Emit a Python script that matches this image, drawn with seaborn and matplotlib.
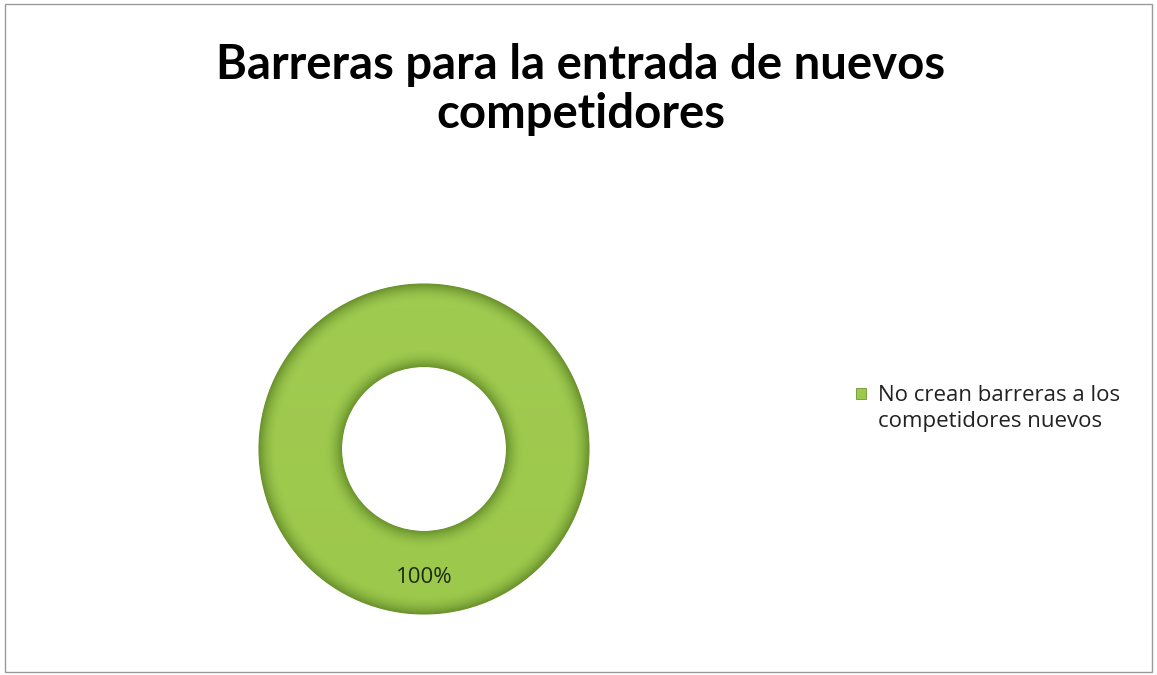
import matplotlib
matplotlib.use("Agg")
import matplotlib.pyplot as plt
from matplotlib.patches import Rectangle
from matplotlib.legend_handler import HandlerPatch
import matplotlib.colors as mcolors
import numpy as np
import seaborn as sns

# Survey result: share of respondents per answer
categories = ["No crean barreras a los\ncompetidores nuevos"]
shares = [100]
title = "Barreras para la entrada de nuevos\ncompetidores"

sns.set_theme(style="white")
plt.rcParams["font.family"] = ["Open Sans", "DejaVu Sans"]

green = "#9cc84b"
edge = "#6f9330"
ring_width = 0.5

fig = plt.figure(figsize=(11.57, 6.75), dpi=100)
fig.patch.set_facecolor("white")

# thin outer frame of the chart area
fig.add_artist(Rectangle((0.004, 0.004), 0.992, 0.99, transform=fig.transFigure,
                         fill=False, edgecolor="#9a9a9a", linewidth=1.0))

W, H = 1157, 675
cx, cy, r = 424, 449, 165
half = r * 1.1
ax = fig.add_axes([(cx - half) / W, (H - cy - half) / H, 2 * half / W, 2 * half / H])

wedges, texts, autotexts = ax.pie(
    shares, colors=[green], startangle=90, counterclock=False, radius=1.0,
    wedgeprops=dict(width=ring_width, edgecolor=edge, linewidth=0.8),
    autopct=lambda p: f"{p:.0f}%", pctdistance=0.78,
    textprops=dict(fontsize=16, color="#1f2a10"),
)

# bevel shading across the ring, clipped to each wedge
n = 600
xs = np.linspace(-1, 1, n)
X, Y = np.meshgrid(xs, xs[::-1])
R = np.hypot(X, Y)
mid = 1 - ring_width / 2
d = np.clip(np.abs(R - mid) / (ring_width / 2), 0, 1)
base = np.array(mcolors.to_rgb(green))
dark = np.array([0.42, 0.58, 0.18])
light = np.array([0.66, 0.82, 0.36])
edge_mix = np.clip((d - 0.55) / 0.45, 0, 1) ** 2
top_mix = np.clip((Y + 1) / 2, 0, 1) * 0.35
img = base * (1 - top_mix[..., None]) + light * top_mix[..., None]
img = img * (1 - edge_mix[..., None]) + dark * edge_mix[..., None]
for w in wedges:
    im = ax.imshow(img, extent=(-1, 1, -1, 1), zorder=w.get_zorder() + 0.1)
    im.set_clip_path(w)

for t in autotexts:
    t.set_position((0, -0.78))
    t.set_zorder(5)
ax.set_xlim(-1.1, 1.1)
ax.set_ylim(-1.1, 1.1)
ax.set_aspect("equal")
ax.axis("off")

fig.text(0.502, 0.936, title, ha="center", va="top", fontsize=34,
         fontweight="bold", family=["Lato", "DejaVu Sans"], color="black",
         linespacing=1.12)

legend_fs = 16


def first_line_square(legend, orig_handle, xdescent, ydescent, width, height, fontsize):
    # square key aligned with the first line of a two-line label
    return Rectangle((-xdescent, -ydescent + 0.68 * fontsize), width, height)


leg = fig.legend(wedges, categories, loc="upper left",
                 bbox_to_anchor=(845 / W, 1 - 374 / H), frameon=False,
                 fontsize=legend_fs, handlelength=0.45, handleheight=0.45,
                 handletextpad=0.55, borderpad=0, labelspacing=0.2,
                 handler_map={type(wedges[0]): HandlerPatch(patch_func=first_line_square)})
for t in leg.get_texts():
    t.set_color("#222222")
    t.set_linespacing(1.3)
for h in leg.legend_handles:
    h.set_edgecolor(edge)
    h.set_linewidth(0.6)

fig.savefig("out.png", dpi=100, facecolor="white")
